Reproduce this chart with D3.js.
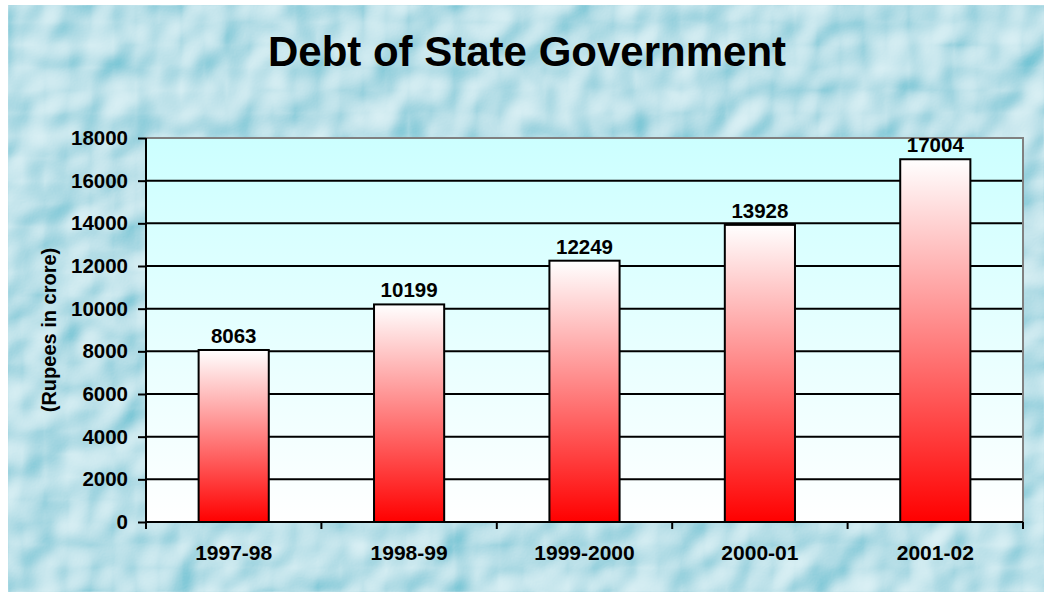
<!DOCTYPE html>
<html>
<head>
<meta charset="utf-8">
<script src="https://cdn.jsdelivr.net/npm/d3@7"></script>
<style>
  body { margin: 0; background: #fff; }
  svg { display: block; }
  text { font-family: Arial, "Liberation Sans", sans-serif; font-weight: bold; fill: #000; }
</style>
</head>
<body>
<div id="chart"></div>
<script>
// data
var years = ["1997-98", "1998-99", "1999-2000", "2000-01", "2001-02"];
var debt = [8063, 10199, 12249, 13928, 17004];
var yTicks = [0, 2000, 4000, 6000, 8000, 10000, 12000, 14000, 16000, 18000];

var W = 1044, H = 592;
var m = {top: 138, right: 21, bottom: 70, left: 146};
var pw = W - m.left - m.right,
    ph = H - m.top - m.bottom;

var svg = d3.select("#chart").append("svg")
  .attr("width", W)
  .attr("height", H);

var defs = svg.append("defs");

// water drop texture
var f = defs.append("filter").attr("id", "water")
  .attr("x", 0).attr("y", 0).attr("width", "100%").attr("height", "100%");
f.append("feTurbulence")
  .attr("type", "fractalNoise")
  .attr("baseFrequency", "0.022")
  .attr("numOctaves", 2)
  .attr("seed", 11)
  .attr("result", "noise");
f.append("feDiffuseLighting")
  .attr("in", "noise")
  .attr("lighting-color", "#ffffff")
  .attr("surfaceScale", 9)
  .attr("result", "light")
  .append("feDistantLight").attr("azimuth", 225).attr("elevation", 42);
f.append("feColorMatrix")
  .attr("in", "light")
  .attr("type", "matrix")
  .attr("values", "0.75 0 0 0 0.0  0 0.45 0 0 0.45  0 0 0.35 0 0.58  0 0 0 1 0");

var plotGrad = defs.append("linearGradient").attr("id", "plotGrad")
  .attr("x1", 0).attr("y1", 0).attr("x2", 0).attr("y2", 1);
plotGrad.append("stop").attr("offset", "0%").attr("stop-color", "#ccffff");
plotGrad.append("stop").attr("offset", "100%").attr("stop-color", "#ffffff");

var barGrad = defs.append("linearGradient").attr("id", "barGrad")
  .attr("x1", 0).attr("y1", 0).attr("x2", 0).attr("y2", 1);
barGrad.append("stop").attr("offset", "0%").attr("stop-color", "#ffffff");
barGrad.append("stop").attr("offset", "100%").attr("stop-color", "#ff0000");

// background
svg.append("rect")
  .attr("x", 8).attr("y", 5)
  .attr("width", W - 8).attr("height", H - 5)
  .attr("fill", "#a9dde8")
  .attr("filter", "url(#water)");

// title
svg.append("text")
  .attr("x", 527)
  .attr("y", 66)
  .attr("text-anchor", "middle")
  .attr("font-size", "42px")
  .text("Debt of State Government");

var g = svg.append("g").attr("transform", "translate(" + m.left + "," + m.top + ")");

var x = d3.scaleBand()
  .domain(years)
  .range([0, pw])
  .paddingInner(0.6)
  .paddingOuter(0.3);

var y = d3.scaleLinear()
  .domain([0, 18000])
  .range([ph, 0]);

// plot area
g.append("rect")
  .attr("width", pw)
  .attr("height", ph)
  .attr("fill", "url(#plotGrad)");

// grid lines
g.selectAll(".grid")
  .data(yTicks.filter(function(d) { return d > 0 && d < 18000; }))
  .enter().append("line")
  .attr("x1", 0).attr("x2", pw)
  .attr("y1", function(d) { return y(d); })
  .attr("y2", function(d) { return y(d); })
  .attr("stroke", "#000")
  .attr("stroke-width", 2);

// top and right border
g.append("path")
  .attr("d", "M0,0H" + pw + "V" + ph)
  .attr("fill", "none")
  .attr("stroke", "#808080")
  .attr("stroke-width", 2);

// bars
g.selectAll(".bar")
  .data(debt)
  .enter().append("rect")
  .attr("class", "bar")
  .attr("x", function(d, i) { return x(years[i]); })
  .attr("y", function(d) { return y(d); })
  .attr("width", x.bandwidth())
  .attr("height", function(d) { return ph - y(d); })
  .attr("fill", "url(#barGrad)")
  .attr("stroke", "#000")
  .attr("stroke-width", 2);

// value labels
g.selectAll(".val")
  .data(debt)
  .enter().append("text")
  .attr("x", function(d, i) { return x(years[i]) + x.bandwidth() / 2; })
  .attr("y", function(d) { return y(d) - 7; })
  .attr("text-anchor", "middle")
  .attr("font-size", "20.5px")
  .text(function(d) { return d; });

// y axis
var yAxis = g.append("g")
  .call(d3.axisLeft(y).tickValues(yTicks).tickSize(8).tickPadding(10).tickFormat(d3.format("d")));
yAxis.select(".domain").attr("stroke", "#000").attr("stroke-width", 2).attr("d", "M0,0V" + ph);
yAxis.selectAll(".tick line").attr("stroke", "#000").attr("stroke-width", 2);
yAxis.selectAll(".tick text")
  .attr("font-size", "20.5px")
  .attr("font-family", "Arial, 'Liberation Sans', sans-serif")
  .attr("font-weight", "bold")
  .attr("fill", "#000");

// x axis with ticks on category boundaries
var step = x.step();
var bounds = d3.range(years.length + 1).map(function(i) { return i * step; });
var xg = g.append("g").attr("transform", "translate(0," + ph + ")");
xg.append("line")
  .attr("x1", 0).attr("x2", pw)
  .attr("stroke", "#000").attr("stroke-width", 2);
xg.selectAll(".xt")
  .data(bounds)
  .enter().append("line")
  .attr("x1", function(d) { return d; })
  .attr("x2", function(d) { return d; })
  .attr("y1", 0).attr("y2", 7)
  .attr("stroke", "#000").attr("stroke-width", 2);
xg.selectAll(".xl")
  .data(years)
  .enter().append("text")
  .attr("x", function(d) { return x(d) + x.bandwidth() / 2; })
  .attr("y", 38)
  .attr("text-anchor", "middle")
  .attr("font-size", "21px")
  .text(function(d) { return d; });

// y axis title
svg.append("text")
  .attr("transform", "translate(56," + (m.top + ph / 2) + ") rotate(-90)")
  .attr("text-anchor", "middle")
  .attr("font-size", "20px")
  .text("(Rupees in crore)");
</script>
</body>
</html>
